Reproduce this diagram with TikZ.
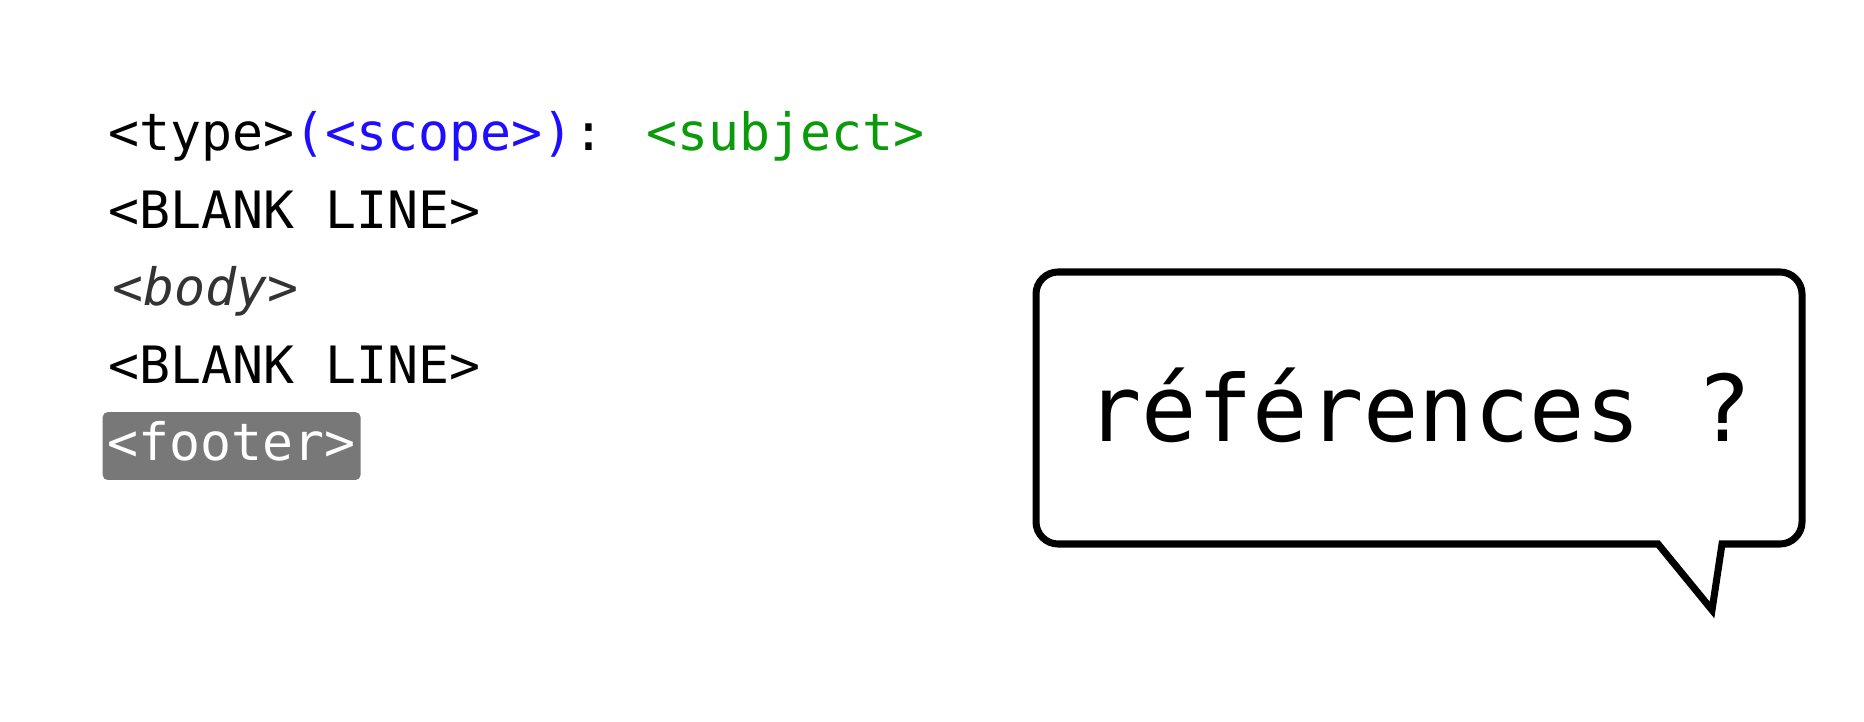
\documentclass[tikz,border=0pt]{standalone}
\usepackage{fontspec}
\usepackage{tikz}
\newfontfamily\codefont{DejaVu Sans Mono}
\definecolor{scope-blue}{HTML}{1F0DFF}
\definecolor{subject-green}{HTML}{0A9A0A}
\definecolor{body-grey}{HTML}{333333}
\colorlet{footer-grey}{black!53}

\begin{document}
\begin{tikzpicture}[x=0.1mm, y=-0.1mm,
    codeline/.style={anchor=base west, inner sep=0pt,
        font=\codefont\fontsize{14.65}{17}\selectfont},
    bubble/.style={line width=2pt, line join=miter}]
    \useasboundingbox (0, 0) rectangle (1864, 722);

    % commit message layout
    \node[codeline] (header) at (108, 151)
        {<type>\textcolor{scope-blue}{(<scope>)}: \textcolor{subject-green}{<subject>}};
    \node[codeline] (blank-a) at (108, 228.5) {<BLANK LINE>};
    \node[codeline, text=body-grey] (body) at (112, 306) {\itshape <body>};
    \node[codeline] (blank-b) at (108, 383.5) {<BLANK LINE>};
    \node[codeline, fill=footer-grey, text=white, rounded corners=1.4pt,
        inner xsep=1.4pt, text height=13.9pt, text depth=5.4pt] (footer) at (102, 461) {<footer>};

    % speech bubble
    \draw[bubble] (1058, 272) -- (1780, 272) .. controls (1792, 272) and (1802, 282) .. (1802, 294)
        -- (1802, 522) .. controls (1802, 534) and (1792, 544) .. (1780, 544)
        -- (1722, 544) -- (1712, 610) -- (1658, 544)
        -- (1058, 544) .. controls (1046, 544) and (1036, 534) .. (1036, 522)
        -- (1036, 294) .. controls (1036, 282) and (1046, 272) .. (1058, 272) -- cycle;
    \node[anchor=base, inner sep=0pt, font=\codefont\fontsize{26.2}{30}\selectfont]
        (question) at (1419, 442) {références ?};
\end{tikzpicture}
\end{document}
